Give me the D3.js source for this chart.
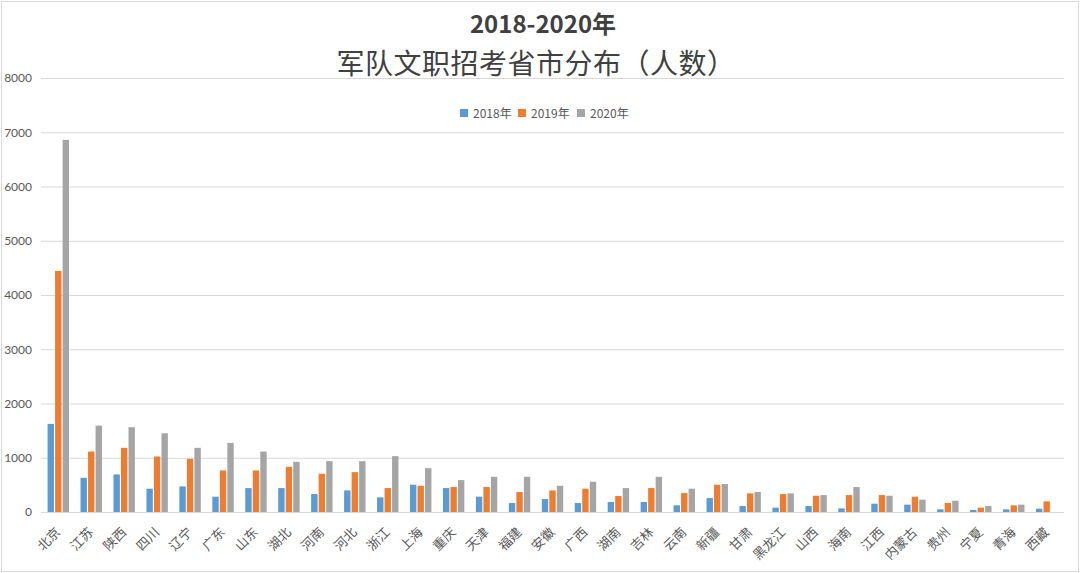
<!DOCTYPE html>
<html>
<head>
<meta charset="utf-8">
<script src="https://cdn.jsdelivr.net/npm/d3@7"></script>
<style>
  body { margin: 0; background: #fff; }
  text { font-family: "Noto Sans CJK SC", "Noto Sans", sans-serif; }
</style>
</head>
<body>
<div id="chart"></div>
<script>
/* CONSTANTS AND GLOBALS */
const width = 1080,
  height = 573,
  margin = { top: 78, right: 16, bottom: 61, left: 41 };

/* DATA */
const provinces = ["北京", "江苏", "陕西", "四川", "辽宁", "广东", "山东", "湖北", "河南", "河北",
  "浙江", "上海", "重庆", "天津", "福建", "安徽", "广西", "湖南", "吉林", "云南",
  "新疆", "甘肃", "黑龙江", "山西", "海南", "江西", "内蒙古", "贵州", "宁夏", "青海", "西藏"];
const years = ["2018年", "2019年", "2020年"];
const v2018 = [1624, 631, 692, 429, 472, 282, 441, 441, 331, 398,
  270, 502, 441, 282, 165, 239, 165, 184, 184, 123,
  257, 110, 80, 110, 67, 153, 135, 49, 37, 49, 61];
const v2019 = [4444, 1115, 1183, 1023, 980, 766, 766, 833, 705, 735,
  441, 484, 460, 460, 368, 398, 429, 294, 441, 349,
  502, 343, 331, 300, 312, 312, 282, 165, 80, 123, 196];
const v2020 = [6860, 1593, 1562, 1452, 1183, 1274, 1115, 925, 937, 937,
  1029, 809, 588, 649, 649, 484, 558, 441, 649, 429,
  515, 368, 343, 312, 460, 300, 227, 208, 110, 135, 0];
const yTicks = [0, 1000, 2000, 3000, 4000, 5000, 6000, 7000, 8000];
const colors = ["#5B9BD5", "#ED7D31", "#A5A5A5"];

const series = [v2018, v2019, v2020];
const rows = provinces.map((p, i) => ({ name: p, values: series.map(s => s[i]) }));

/* SVG */
const svg = d3.select("#chart")
  .append("svg")
  .attr("width", width)
  .attr("height", height)

// outer frame
svg.append("rect")
  .attr("x", 1.5).attr("y", 1.5)
  .attr("width", width - 3).attr("height", height - 3)
  .attr("fill", "#fff")
  .attr("stroke", "#d9d9d9")

/* SCALES */
const x0 = d3.scaleBand()
  .domain(provinces)
  .range([margin.left, width - margin.right])
  .paddingInner(0.35)
  .paddingOuter(0.2)

const x1 = d3.scaleBand()
  .domain(d3.range(years.length))
  .range([0, x0.bandwidth()])
  .paddingInner(0.15)

const yScale = d3.scaleLinear()
  .domain([0, 8000])
  .range([height - margin.bottom, margin.top])

/* AXES */
svg.append("g")
  .attr("class", "y-axis")
  .attr("transform", `translate(${margin.left},0)`)
  .call(d3.axisLeft(yScale).tickValues(yTicks).tickFormat(d3.format("d"))
    .tickSize(-(width - margin.left - margin.right)).tickPadding(9))
  .call(g => g.select(".domain").remove())
  .call(g => g.selectAll(".tick line").attr("stroke", "#d9d9d9"))
  .call(g => g.selectAll(".tick text")
    .attr("fill", "#595959")
    .style("font-family", "Lato, 'Noto Sans', sans-serif")
    .style("font-size", "12px"))

const xAxis = svg.append("g")
  .attr("class", "x-axis")
  .attr("transform", `translate(0,${height - margin.bottom})`)
  .call(d3.axisBottom(x0).tickSize(0).tickPadding(0))
  .call(g => g.select(".domain").remove())

xAxis.selectAll(".tick text")
  .attr("fill", "#595959")
  .style("font-size", "13px")
  .attr("text-anchor", "end")
  .attr("dy", null)
  .attr("y", 0)
  .attr("transform", "translate(3,21) rotate(-45)")

/* BARS */
svg.append("g")
  .selectAll("g")
  .data(rows)
  .join("g")
  .attr("transform", d => `translate(${x0(d.name)},0)`)
  .selectAll("rect")
  .data(d => d.values.map((v, i) => ({ i, v })))
  .join("rect")
  .attr("x", d => x1(d.i))
  .attr("width", x1.bandwidth())
  .attr("y", d => yScale(d.v))
  .attr("height", d => yScale(0) - yScale(d.v))
  .attr("fill", d => colors[d.i])

/* TITLE */
svg.append("text")
  .attr("x", 543).attr("y", 33)
  .attr("text-anchor", "middle")
  .attr("fill", "#404040")
  .style("font-size", "24px")
  .style("font-weight", "bold")
  .text("2018-2020年")

svg.append("text")
  .attr("x", 536).attr("y", 74)
  .attr("text-anchor", "middle")
  .attr("fill", "#404040")
  .style("font-size", "28px")
  .style("letter-spacing", "0.5px")
  .text("军队文职招考省市分布（人数）")

/* LEGEND */
const legendX = [460, 518, 577];
const legend = svg.append("g")
  .selectAll("g")
  .data(years)
  .join("g")
  .attr("transform", (d, i) => `translate(${legendX[i]},113)`)

legend.append("rect")
  .attr("x", 0).attr("y", -4)
  .attr("width", 8).attr("height", 8)
  .attr("fill", (d, i) => colors[i])

legend.append("text")
  .attr("x", 13).attr("y", 4.5)
  .attr("fill", "#595959")
  .style("font-size", "12px")
  .text(d => d)
</script>
</body>
</html>
